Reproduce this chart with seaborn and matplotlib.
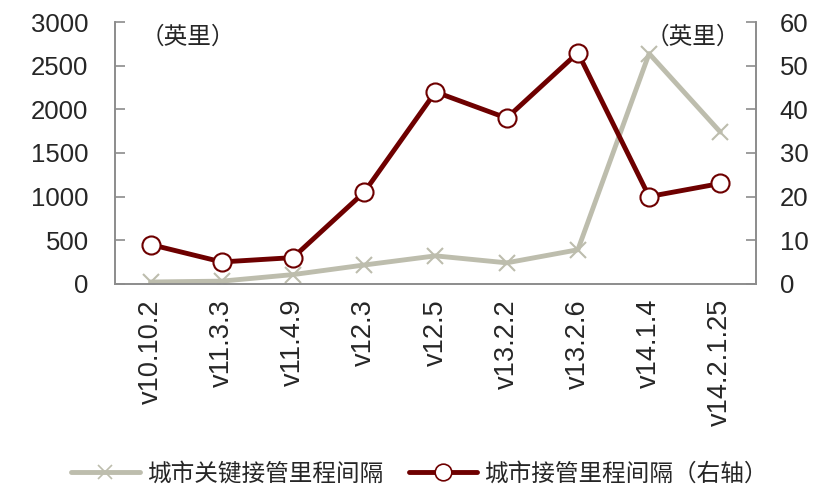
import numpy as np
import pandas as pd
import matplotlib
matplotlib.use('Agg')
import matplotlib.pyplot as plt
from matplotlib.lines import Line2D
import seaborn as sns

# data
versions = ['v10.10.2', 'v11.3.3', 'v11.4.9', 'v12.3', 'v12.5', 'v13.2.2', 'v13.2.6', 'v14.1.4', 'v14.2.1.25']
key_miles = [20, 30, 105, 215, 320, 240, 390, 2640, 1740]
city_miles = [9, 5, 6, 21, 44, 38, 53, 20, 23]

sns.set_style('white')
plt.rcParams['font.family'] = ['Liberation Sans', 'Noto Sans CJK SC', 'DejaVu Sans']
cjk = ['Noto Sans CJK SC', 'DejaVu Sans']

gray = '#BDBDAD'
red = '#6E0000'
axis_col = '#8C8C8C'

df = pd.DataFrame({'version': versions, 'key': key_miles, 'city': city_miles})
df['x'] = np.arange(len(versions))

fig = plt.figure(figsize=(8.39, 5.04), dpi=100)
ax = fig.add_axes([0.137, 0.437, 0.764, 0.519])
ax2 = ax.twinx()

sns.lineplot(data=df, x='x', y='key', ax=ax, color=gray, linewidth=3.5,
             marker='x', markersize=12, markeredgewidth=1.5, markeredgecolor=gray)
sns.lineplot(data=df, x='x', y='city', ax=ax2, color=red, linewidth=3.5,
             marker='o', markersize=13, markerfacecolor='white',
             markeredgecolor=red, markeredgewidth=1.5)

ax.set_xlim(-0.5, len(versions) - 0.5)
ax.set_ylim(0, 3000)
ax2.set_ylim(0, 60)
ax.set_yticks(range(0, 3001, 500))
ax2.set_yticks(range(0, 61, 10))
ax.set_xticks(df['x'])
ax.set_xticklabels(versions, rotation=90)
ax.set_xticks(np.arange(-0.5, len(versions)), minor=True)
ax.tick_params(axis='x', which='major', length=0, labelsize=19.5, pad=11)
ax.tick_params(axis='x', which='minor', length=7, color=axis_col, direction='out', width=1.2)
ax.tick_params(axis='y', labelsize=18.5, direction='in', length=7, color=axis_col, width=1.2,
               left=True, pad=19)
ax2.tick_params(axis='y', labelsize=18.5, direction='in', length=7, color=axis_col, width=1.2,
                right=True, pad=17)
ax.set_xlabel('')
ax.set_ylabel('')
ax2.set_ylabel('')

for a in (ax, ax2):
    a.spines['top'].set_visible(False)
    for s in ('left', 'right', 'bottom'):
        a.spines[s].set_color(axis_col)
        a.spines[s].set_linewidth(1.2)

ax.text(0.04, 0.985, '（英里）', transform=ax.transAxes, fontsize=17, family=cjk, va='top', ha='left')
ax.text(0.975, 0.985, '（英里）', transform=ax.transAxes, fontsize=17, family=cjk, va='top', ha='right')

handles = [
    Line2D([], [], color=gray, linewidth=3.5, marker='x', markersize=10, markeredgewidth=1.2),
    Line2D([], [], color=red, linewidth=3.5, marker='o', markersize=12,
           markerfacecolor='white', markeredgecolor=red, markeredgewidth=1.2),
]
fig.legend(handles, ['城市关键接管里程间隔', '城市接管里程间隔（右轴）'], loc='center',
           bbox_to_anchor=(0.5, 0.06), ncol=2, frameon=False, handlelength=2.9,
           handletextpad=0.3, columnspacing=1.1, prop={'family': cjk, 'size': 17})

fig.savefig('out.png', dpi=100)
